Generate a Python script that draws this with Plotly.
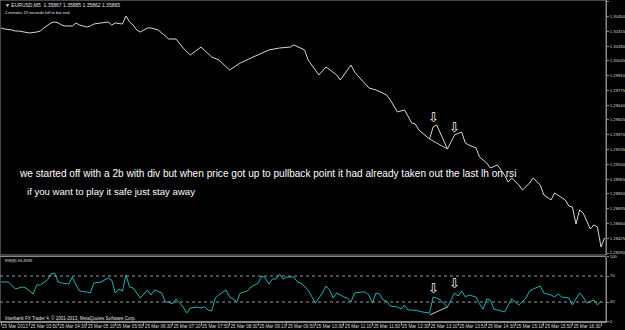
import plotly.graph_objects as go

DAY = "2013-03-25 "

price_times = ["03:10","03:15","03:25","03:30","03:35","03:45","03:50","04:00","04:05","04:10",
               "04:20","04:25","04:30","04:35","04:40","04:50","04:55","05:00","05:10","05:15",
               "05:20","05:30","05:40","05:45","05:50","06:00","06:05","06:10","06:15","06:20",
               "06:25","06:35","06:40","06:50","06:55","07:00","07:05","07:15","07:25","07:35",
               "07:50","08:05","08:15","08:30","08:45","09:00","09:10","09:25","09:40","09:55",
               "10:00","10:15","10:20","10:35","10:45","11:00","11:05","11:20","11:25","11:35",
               "11:45","11:55","12:10","12:15","12:25","12:35","12:45","12:50","12:55","13:10",
               "13:15","13:20","13:35","13:40","13:45","13:55","14:00","14:05","14:15","14:20",
               "14:30","14:35","14:45","14:55","15:00","15:05","15:15","15:20","15:30","15:35",
               "15:45","15:50","16:00","16:05","16:15","16:20","16:25","16:30","16:35","16:40",
               "16:45","16:55","17:00","17:05","17:10","17:15"]
price_close = [1.30345,1.30336,1.30327,1.30317,1.30317,1.30308,1.30299,1.30308,1.30317,1.30345,
               1.30391,1.30400,1.30391,1.30372,1.30363,1.30363,1.30391,1.30372,1.30354,1.30363,
               1.30381,1.30391,1.30400,1.30372,1.30391,1.30381,1.30454,1.30400,1.30372,1.30327,
               1.30308,1.30345,1.30345,1.30327,1.30299,1.30263,1.30244,1.30244,1.30162,1.30098,
               1.30171,1.30080,1.30053,1.29961,1.30025,1.30071,1.30098,1.30144,1.30162,1.30171,
               1.30190,1.30144,1.30053,1.29916,1.29989,1.29916,1.29870,1.30007,1.29943,1.29870,
               1.29797,1.29779,1.29733,1.29687,1.29578,1.29596,1.29477,1.29468,1.29413,1.29331,
               1.29441,1.29459,1.29240,1.29304,1.29368,1.29395,1.29295,1.29276,1.29249,1.29167,
               1.29112,1.29066,1.29094,1.29002,1.28938,1.28975,1.28911,1.28865,1.28929,1.28975,
               1.28911,1.28820,1.28774,1.28838,1.28792,1.28774,1.28719,1.28710,1.28555,1.28683,
               1.28655,1.28509,1.28546,1.28527,1.28345,1.28427]

rsi_times = ["03:10","03:20","03:25","03:30","03:40","03:45","03:55","04:00","04:05","04:15",
             "04:20","04:25","04:30","04:35","04:45","04:50","04:55","05:00","05:10","05:15",
             "05:20","05:30","05:40","05:45","05:50","05:55","06:00","06:05","06:10","06:15",
             "06:20","06:25","06:35","06:40","06:45","06:55","07:00","07:05","07:10","07:15",
             "07:25","07:30","07:35","07:45","07:50","07:55","08:00","08:05","08:10","08:15",
             "08:25","08:30","08:35","08:40","08:45","08:55","09:00","09:10","09:15","09:20",
             "09:25","09:30","09:35","09:40","09:45","09:50","10:00","10:05","10:10","10:20",
             "10:30","10:35","10:40","10:45","10:50","10:55","11:00","11:10","11:15","11:20",
             "11:25","11:35","11:40","11:45","11:50","11:55","12:00","12:05","12:10","12:15",
             "12:25","12:30","12:35","12:40","12:45","12:55","13:00","13:10","13:15","13:20",
             "13:25","13:35","13:45","13:50","13:55","14:00","14:05","14:15","14:20","14:25",
             "14:30","14:35","14:40","14:50","14:55","15:05","15:10","15:15","15:25","15:30",
             "15:35","15:45","15:50","16:00","16:05","16:10","16:15","16:25","16:30","16:40",
             "16:45","16:50","17:00","17:05","17:10"]
rsi_values = [60.8,60.8,56.2,50.0,53.1,51.5,42.3,56.2,56.2,63.8,
              73.1,74.6,60.8,59.2,57.7,68.5,56.2,46.9,45.4,43.8,
              59.2,60.8,66.9,63.8,43.8,50.0,46.9,71.5,53.1,51.5,
              43.8,36.2,48.5,40.8,48.5,43.8,30.0,30.0,26.9,34.6,
              22.3,13.1,20.8,22.3,20.8,22.3,17.7,16.2,36.2,40.8,
              48.5,37.7,34.6,30.0,43.8,46.9,53.1,59.2,70.0,66.9,
              57.7,65.4,65.4,73.1,65.4,68.5,68.5,60.8,59.2,48.5,
              28.5,36.2,43.8,54.6,48.5,36.2,43.8,37.7,36.2,30.0,
              43.8,45.4,45.4,40.8,28.5,43.8,42.3,33.1,31.5,23.8,
              22.3,19.2,25.4,17.7,17.7,16.2,14.6,13.1,37.7,36.2,
              33.1,22.3,43.8,39.2,46.9,37.7,40.8,37.7,26.9,19.2,
              34.6,33.1,19.2,16.2,14.6,34.6,30.0,25.4,36.2,46.9,
              50.0,54.6,43.8,40.8,37.7,42.3,37.7,36.2,25.4,43.8,
              37.7,28.5,33.1,25.4,31.5]

assert len(price_times) == len(price_close)
assert len(rsi_times) == len(rsi_values)

price_tick_labels = ["1.28290","1.28425","1.28560","1.28695","1.28830","1.28965","1.29100",
                     "1.29235","1.29370","1.29505","1.29640","1.29775","1.29910","1.30045",
                     "1.30180","1.30315","1.30450","1.30585"]
rsi_levels = [70, 30]
rsi_tick_labels = ["0", "30", "70", "100"]

time_tick_times = ["03:10","03:50","04:30","05:10","05:50","06:30","07:10","07:50","08:30","09:10",
                   "09:50","10:30","11:10","11:50","12:30","13:10","13:50","14:30","15:10","15:50",
                   "16:30","17:10"]
time_tick_labels = ["25 Mar 2013"] + ["25 Mar " + t for t in time_tick_times[1:]]

# trendlines drawn on the chart (price troughs and RSI troughs)
trend_times = ["13:10", "13:35"]
trend_price = [1.29331, 1.29240]
trend_rsi = [10.0, 22.3]
arrow_times = ["13:15", "13:45"]
arrow_price = [1.29523, 1.29432]
arrow_rsi = [51.5, 59.2]

W, H = 625, 330
plot_right = 606 / W
main_dom = [1 - 255 / H, 1]
rsi_dom = [1 - 321.5 / H, 1 - 256.5 / H]

fig = go.Figure()
fig.add_trace(go.Scatter(x=[DAY + t for t in price_times], y=price_close, mode="lines",
                         line=dict(color="#d8d8d8", width=1), xaxis="x", yaxis="y",
                         showlegend=False, hoverinfo="skip"))
fig.add_trace(go.Scatter(x=[DAY + t for t in rsi_times], y=rsi_values, mode="lines",
                         line=dict(color="#1fb2b2", width=1), xaxis="x", yaxis="y2",
                         showlegend=False, hoverinfo="skip"))
fig.add_trace(go.Scatter(x=[DAY + t for t in trend_times], y=trend_price, mode="lines",
                         line=dict(color="#c8c8c8", width=1), xaxis="x", yaxis="y",
                         showlegend=False, hoverinfo="skip"))
fig.add_trace(go.Scatter(x=[DAY + t for t in trend_times], y=trend_rsi, mode="lines",
                         line=dict(color="#c8c8c8", width=1), xaxis="x", yaxis="y2",
                         showlegend=False, hoverinfo="skip"))

axis_font = dict(family="Liberation Sans, Arial, sans-serif", size=4.6, color="#d8d8d8")
yaxis_font = dict(family="Liberation Sans, Arial, sans-serif", size=4.2, color="#d8d8d8")
grey = "#8a8a8a"

shapes = []
for yd in ["y domain", "y2 domain"]:
    shapes.append(dict(type="rect", xref="x domain", yref=yd, x0=0, x1=1, y0=0, y1=1,
                       line=dict(color=grey, width=1)))
for lv in rsi_levels:
    shapes.append(dict(type="line", xref="x domain", yref="y2", x0=0, x1=1, y0=lv, y1=lv,
                       line=dict(color="#9a9a9a", width=1, dash="dot")))

small = dict(family="Liberation Sans, Arial", color="#e0e0e0")
annotations = [
    dict(text="▼ EURUSD,M5  1.35867 1.35885 1.35862 1.35865", xref="paper", yref="paper",
         x=3 / W, y=1 - 5 / H, xanchor="left", yanchor="middle", showarrow=False,
         font=dict(size=5, **small)),
    dict(text="2 minutes 19 seconds left to bar end", xref="paper", yref="paper",
         x=3 / W, y=1 - 12 / H, xanchor="left", yanchor="middle", showarrow=False,
         font=dict(size=4, **small)),
    dict(text="we started off with a 2b with div but when price got up to pullback point it had already taken out the last lh on rsi",
         xref="paper", yref="paper", x=17 / W, y=1 - 173 / H, xanchor="left", yanchor="middle",
         showarrow=False, font=dict(family="Liberation Sans, Arial", size=10.1, color="#ffffff")),
    dict(text="if you want to play it safe just stay away",
         xref="paper", yref="paper", x=25 / W, y=1 - 191.5 / H, xanchor="left", yanchor="middle",
         showarrow=False, font=dict(family="Liberation Sans, Arial", size=9.6, color="#ffffff")),
    dict(text="RSI(8) 63.4939", xref="paper", yref="paper", x=3 / W, y=1 - 260.5 / H,
         xanchor="left", yanchor="middle", showarrow=False, font=dict(size=4, **small)),
    dict(text="Interbank FX Trader 4, © 2001-2013, MetaQuotes Software Corp.", xref="paper",
         yref="paper", x=3 / W, y=1 - 318 / H, xanchor="left", yanchor="middle", showarrow=False,
         font=dict(size=4.5, **small)),
]
for t, p, r in zip(arrow_times, arrow_price, arrow_rsi):
    for yref, val in (("y", p), ("y2", r)):
        annotations.append(dict(text="⇩", x=DAY + t, y=val, xref="x", yref=yref,
                                showarrow=False, xanchor="center", yanchor="middle",
                                font=dict(family="DejaVu Sans", size=13, color="#ffffff")))

price_tick_vals = [float(s) for s in price_tick_labels]
rsi_tick_vals = [float(s) for s in rsi_tick_labels]

fig.update_layout(
    width=W, height=H, margin=dict(l=0, r=0, t=0, b=0, autoexpand=False),
    paper_bgcolor="#000000", plot_bgcolor="#000000",
    xaxis=dict(domain=[0, plot_right], anchor="y2", type="date", automargin=False,
               range=["2013-03-25 03:08:36", "2013-03-25 17:17:00"],
               tickvals=[DAY + t for t in time_tick_times], ticktext=time_tick_labels,
               tickangle=0, ticklabelposition="outside right", ticks="outside", ticklen=3,
               tickcolor=grey, tickfont=axis_font, showgrid=False, zeroline=False,
               showline=True, linecolor=grey),
    yaxis=dict(domain=main_dom, anchor="x", side="right", range=[1.282717, 1.306005],
               automargin=False, tickvals=price_tick_vals, ticktext=price_tick_labels,
               ticks="outside", ticklen=2, tickcolor=grey, tickfont=yaxis_font,
               showgrid=False, zeroline=False, showline=True, linecolor=grey),
    yaxis2=dict(domain=rsi_dom, anchor="x", side="right", range=[0, 100], automargin=False,
                tickvals=rsi_tick_vals, ticktext=rsi_tick_labels, ticks="outside",
                ticklen=2, tickcolor=grey, tickfont=yaxis_font, showgrid=False,
                zeroline=False, showline=True, linecolor=grey),
    shapes=shapes, annotations=annotations,
)

fig.write_html("out.html")
